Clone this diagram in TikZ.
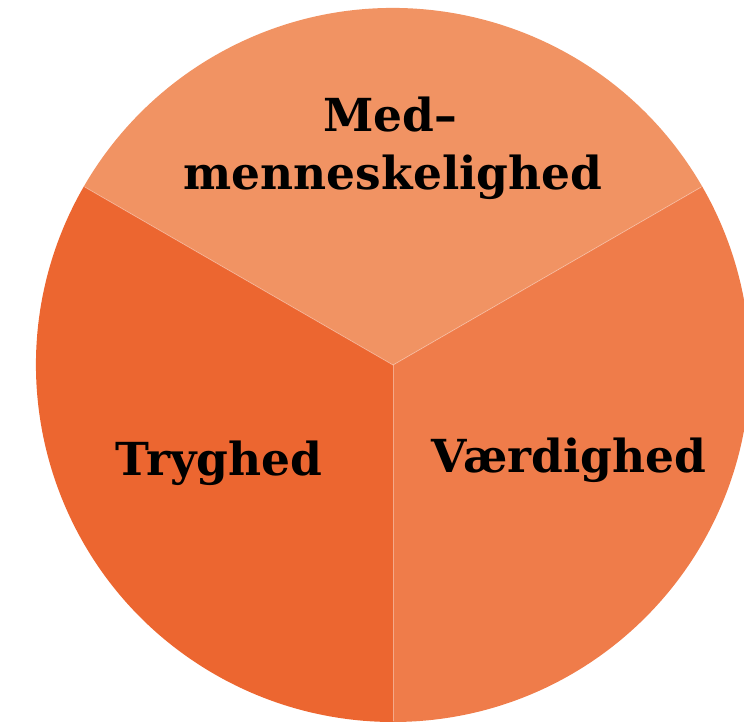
\documentclass[tikz,border=0pt]{standalone}
\usepackage{fontspec}
\setmainfont{DejaVu Serif}
\definecolor{topc}{HTML}{F19363}
\definecolor{leftc}{HTML}{EC6630}
\definecolor{rightc}{HTML}{EF7C4A}
\tikzset{
  lbl/.style={font=\bfseries\fontsize{45.5}{58}\selectfont, text=black, anchor=base, inner sep=0pt},
  sep/.style={draw=white, draw opacity=0.35, line width=0.8pt}
}
\begin{document}
\begin{tikzpicture}[x=1pt,y=1pt]
\useasboundingbox (0,0) rectangle (744,722);
\coordinate (c) at (393,357);
\begin{scope}
\clip (0,0) rectangle (744,722);
\fill[topc] (c) -- ++(30:357) arc[start angle=30,end angle=150,radius=357] -- cycle;
\fill[leftc] (c) -- ++(150:357) arc[start angle=150,end angle=270,radius=357] -- cycle;
\fill[rightc] (c) -- ++(270:357) arc[start angle=270,end angle=390,radius=357] -- cycle;
\end{scope}
\draw[sep] (c) -- ++(30:356);
\draw[sep] (c) -- ++(150:356);
\draw[sep] (c) -- ++(270:356);
\node[lbl] (m1) at (390,590) {Med–};
\node[lbl] (m2) at (393,532) {menneskelighed};
\node[lbl] (t) at (219,246) {Tryghed};
\node[lbl] (v) at (569,249) {Værdighed};
\end{tikzpicture}
\end{document}
